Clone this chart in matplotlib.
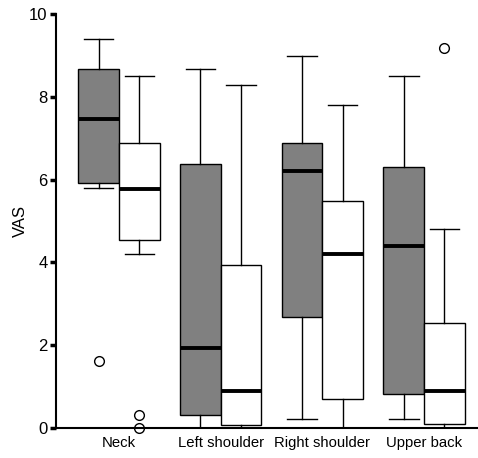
import matplotlib.pyplot as plt
import numpy as np

plt.rcParams['font.family'] = ['Liberation Sans', 'DejaVu Sans']

# regions on the x axis
regions = ["Neck", "Left shoulder", "Right shoulder", "Upper back"]

# gray boxes: whisker low, q1, median, q3, whisker high
gray_lo = [5.79, 0.0, 0.22, 0.22]
gray_q1 = [5.91, 0.31, 2.69, 0.81]
gray_med = [7.46, 1.94, 6.20, 4.40]
gray_q3 = [8.68, 6.38, 6.89, 6.30]
gray_hi = [9.40, 8.68, 8.98, 8.50]
gray_fliers = [[1.62], [], [], []]

# white boxes
white_lo = [4.21, 0.0, 0.0, 0.0]
white_q1 = [4.53, 0.07, 0.69, 0.10]
white_med = [5.78, 0.89, 4.21, 0.89]
white_q3 = [6.89, 3.94, 5.49, 2.53]
white_hi = [8.50, 8.28, 7.79, 4.81]
white_fliers = [[0.31, 0.01], [], [], [9.19]]


def make_stats(lo, q1, med, q3, hi, fliers):
    stats = []
    for i in range(len(lo)):
        stats.append(dict(whislo=lo[i], q1=q1[i], med=med[i], q3=q3[i],
                          whishi=hi[i], fliers=fliers[i]))
    return stats


fig = plt.figure(figsize=(4.78, 4.58), dpi=100)
ax = fig.add_axes([0.117, 0.0655, 0.883, 0.904])

pos = np.arange(1, len(regions) + 1)
width = 0.4

common = dict(widths=width, patch_artist=True, capwidths=0.29, manage_ticks=False,
              whiskerprops=dict(color="black", linewidth=1.0),
              capprops=dict(color="black", linewidth=1.0),
              medianprops=dict(color="black", linewidth=2.8),
              flierprops=dict(marker="o", markerfacecolor="white", markeredgecolor="black",
                              markersize=7, markeredgewidth=1.0, clip_on=False))

ax.bxp(make_stats(gray_lo, gray_q1, gray_med, gray_q3, gray_hi, gray_fliers),
       positions=pos - width / 2,
       boxprops=dict(facecolor="#808080", edgecolor="black", linewidth=1.0), **common)
ax.bxp(make_stats(white_lo, white_q1, white_med, white_q3, white_hi, white_fliers),
       positions=pos + width / 2,
       boxprops=dict(facecolor="white", edgecolor="black", linewidth=1.0), **common)

ax.set_xlim(0.38, 4.53)
ax.set_ylim(0, 10)
ax.set_xticks(pos)
ax.set_xticklabels(regions, fontsize=10.7)
ax.set_yticks([0, 2, 4, 6, 8, 10])
ax.set_yticklabels(["0", "2", "4", "6", "8", "10"], fontsize=12)
ax.tick_params(axis="x", length=0, pad=6)
ax.tick_params(axis="y", length=4, width=2.5, pad=2)
ax.set_ylabel("VAS", fontsize=12, labelpad=1)

ax.spines['top'].set_visible(False)
ax.spines['right'].set_visible(False)
ax.spines['left'].set_linewidth(1.5)
ax.spines['bottom'].set_linewidth(1.5)

plt.savefig("out.png", dpi=100)
